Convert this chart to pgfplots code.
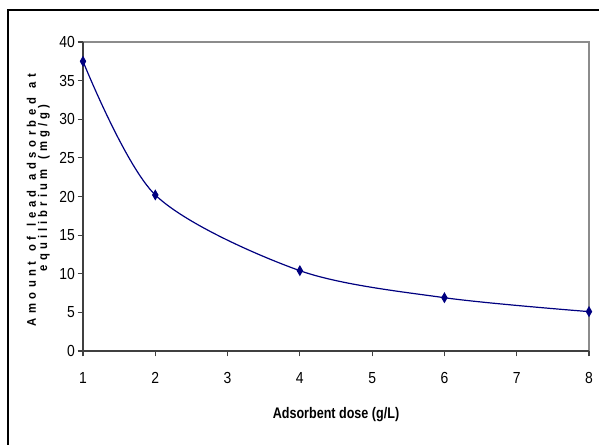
\documentclass[border=0pt]{standalone}
\usepackage{fontspec}
\usepackage{pgfplots}
\pgfplotsset{compat=1.18}
\setmainfont{Liberation Sans}
\newfontfamily\tickfont[FakeStretch=0.87]{Liberation Sans}
\newfontfamily\xlabfont[FakeStretch=0.82]{Liberation Sans}
\newfontfamily\ylabfonta[LetterSpace=36,WordSpace=1.3,FakeStretch=0.9]{Liberation Sans}
\newfontfamily\ylabfontb[LetterSpace=33,WordSpace=1.3,FakeStretch=0.9]{Liberation Sans}
\definecolor{navy}{HTML}{000080}
\definecolor{axdark}{HTML}{404040}
\definecolor{axlight}{HTML}{8C8C8C}
\begin{document}
\begin{tikzpicture}
\useasboundingbox (0,0) rectangle (449.25pt,333pt);
\draw[line width=1.5pt,black] (6pt,-20pt) -- (6pt,325.5pt) -- (470pt,325.5pt);
\begin{axis}[
  at={(62.25pt,69.75pt)}, anchor=south west,
  scale only axis, width=379.5pt, height=231.75pt,
  xmin=1, xmax=8, ymin=0, ymax=40,
  xtick={1,2,3,4,5,6,7,8}, ytick={0,5,10,15,20,25,30,35,40},
  axis line style={draw=none},
  tick align=outside, tick pos=left,
  major tick length=4pt,
  tick style={axdark, line width=0.8pt},
  /pgf/number format/assume math mode=true,
  ticklabel style={font=\tickfont\fontsize{12}{14}\selectfont, text=black},
  xticklabel style={yshift=-8.5pt},
  yticklabel style={xshift=1.5pt},
  xlabel={\xlabfont\bfseries Adsorbent dose (g/L)},
  xlabel style={at={(axis description cs:0.5,-0.207)}, anchor=center, font=\fontsize{11.5}{13}\selectfont},
  clip=false,
]
\draw[axlight, line width=0.8pt] (rel axis cs:0,1) -- (rel axis cs:1,1) -- (rel axis cs:1,0);
\draw[axdark, line width=1.1pt] (rel axis cs:0,1) -- (rel axis cs:0,0) -- (rel axis cs:1,0);
\node[rotate=90, anchor=base, inner sep=0pt, font=\ylabfonta\bfseries\fontsize{9.4}{10}\selectfont]
  at (rel axis cs:-0.0929,0.4887) {Amount of lead adsorbed at};
\node[rotate=90, anchor=base, inner sep=0pt, font=\ylabfontb\bfseries\fontsize{9.4}{10}\selectfont]
  at (rel axis cs:-0.0711,0.5275) {equilibrium (mg/g)};
\addplot[navy, line width=0.9pt, smooth, mark=diamond*, mark size=3pt, mark options={fill=navy, draw=navy, xscale=0.85, yscale=1.1}]
  coordinates {(1,37.5) (2,20.2) (4,10.4) (6,6.9) (8,5.1)};
\end{axis}
\end{tikzpicture}
\end{document}
